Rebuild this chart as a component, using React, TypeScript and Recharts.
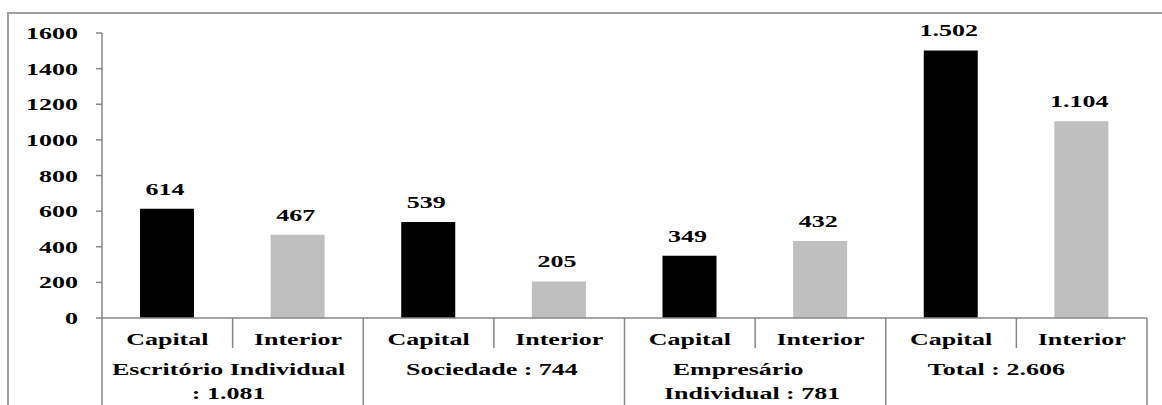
import React from 'react';
import { BarChart, Bar, XAxis, YAxis, Cell, LabelList } from 'recharts';

const categories = ['Capital', 'Interior', 'Capital', 'Interior', 'Capital', 'Interior', 'Capital', 'Interior'];
const values = [614, 467, 539, 205, 349, 432, 1502, 1104];
const groupLabels = [
  ['Escritório Individual', ': 1.081'],
  ['Sociedade : 744'],
  ['Empresário', 'Individual : 781'],
  ['Total : 2.606'],
];
const yTicks = [0, 200, 400, 600, 800, 1000, 1200, 1400, 1600];

const data = categories.map((cat, i) => ({ key: `c${i}`, cat, value: values[i] }));

// small horizontal nudges per group label line (Excel's centring quirks)
const groupLabelDx = [[-4, -4], [-2], [-17, -3], [-20]];

const W = 1162;
const H = 405;
const PLOT_LEFT = 102;
const PLOT_RIGHT = 1147;
const PLOT_BOTTOM = 318;
const BAND = (PLOT_RIGHT - PLOT_LEFT) / categories.length;
const SX = 1.53;
const FONT = 'Liberation Serif, DejaVu Serif, serif';
const AXIS = '#868686';

const fmt = (n: number) => String(n).replace(/\B(?=(\d{3})+(?!\d))/g, '.');

const Txt = ({ x, y, children, anchor = 'middle' }: any) => (
  <text
    transform={`translate(${x},${y}) scale(${SX},1)`}
    textAnchor={anchor}
    style={{ fontFamily: FONT, fontWeight: 700, fontSize: 17 }}
    fill="#000"
  >
    {children}
  </text>
);

const YTick = (props: any) => {
  const { x, y, payload } = props;
  return <Txt x={x - 16} y={y + 6} anchor="end">{payload.value}</Txt>;
};

const CatTick = (props: any) => {
  const { x, index } = props;
  const left = x - BAND / 2;
  const right = x + BAND / 2;
  const isGroupStart = index % 2 === 0;
  const g = Math.floor(index / 2);
  return (
    <g>
      <Txt x={x} y={PLOT_BOTTOM + 27}>{categories[index]}</Txt>
      {isGroupStart ? (
        <line x1={left} x2={left} y1={PLOT_BOTTOM} y2={H} stroke={AXIS} strokeWidth={1.5} />
      ) : (
        <line x1={left} x2={left} y1={PLOT_BOTTOM} y2={PLOT_BOTTOM + 30} stroke={AXIS} strokeWidth={1.5} />
      )}
      {index === categories.length - 1 && (
        <line x1={right} x2={right} y1={PLOT_BOTTOM} y2={H} stroke={AXIS} strokeWidth={1.5} />
      )}
      {!isGroupStart &&
        groupLabels[g].map((line, li) => (
          <Txt key={li} x={left + groupLabelDx[g][li]} y={PLOT_BOTTOM + 57 + li * 24}>{line}</Txt>
        ))}
    </g>
  );
};

const ValueLabel = (props: any) => {
  const { x, y, width, value } = props;
  return <Txt x={x + width / 2 - 2} y={y - 14}>{fmt(value)}</Txt>;
};

export default function App() {
  return (
    <div style={{ position: 'absolute', left: 0, top: 0, width: W, height: H, background: '#fff' }}>
      <div
        style={{
          position: 'absolute',
          left: 7,
          top: 12,
          width: W - 7,
          height: H - 12,
          borderTop: '2px solid #a0a0a0',
          borderLeft: '2px solid #a0a0a0',
          boxSizing: 'border-box',
        }}
      />
      <div style={{ position: 'absolute', left: 0, top: 0 }}>
        <BarChart width={W} height={H} data={data} margin={{ top: 33, right: W - PLOT_RIGHT, left: 7, bottom: 0 }}>
          <XAxis
            dataKey="key"
            interval={0}
            height={H - PLOT_BOTTOM}
            tickLine={false}
            axisLine={{ stroke: AXIS, strokeWidth: 1.5 }}
            tick={<CatTick />}
          />
          <YAxis
            domain={[0, 1600]}
            ticks={yTicks}
            interval={0}
            width={PLOT_LEFT - 7}
            axisLine={{ stroke: AXIS, strokeWidth: 1.5 }}
            tickLine={{ stroke: AXIS, strokeWidth: 1.5 }}
            tick={<YTick />}
          />
          <Bar dataKey="value" barSize={54} isAnimationActive={false}>
            {data.map((d, i) => (
              <Cell key={d.key} fill={i % 2 === 0 ? '#000000' : '#bfbfbf'} />
            ))}
            <LabelList dataKey="value" content={<ValueLabel />} />
          </Bar>
        </BarChart>
      </div>
    </div>
  );
}
